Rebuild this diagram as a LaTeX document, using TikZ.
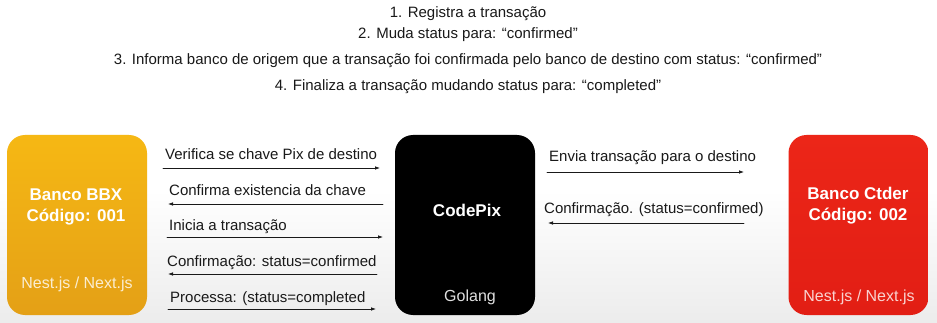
\documentclass[tikz,border=0pt]{standalone}
\usepackage{fontspec}
\setmainfont{Liberation Sans}
\usetikzlibrary{arrows.meta}
\definecolor{bbxgold}{RGB}{246,184,20}
\definecolor{bbxgolddark}{RGB}{228,160,22}
\definecolor{ctdred}{RGB}{236,38,24}
\definecolor{ctdreddark}{RGB}{226,30,20}
\definecolor{floorgray}{RGB}{236,236,236}
\definecolor{ink}{RGB}{25,25,25}

\begin{document}
\begin{tikzpicture}[x=1pt,y=-1pt,line cap=round,>={Latex[length=5pt,width=3.6pt]},
  bank/.style={rounded corners=18pt,minimum width=140pt,minimum height=180pt,inner sep=0pt},
  bankname/.style={font=\bfseries\fontsize{17}{21}\selectfont,text=white,align=center},
  stack/.style={font=\fontsize{16}{18}\selectfont,text=white,text opacity=0.8},
  step label/.style={font=\fontsize{15}{17}\selectfont,text=ink},
  msg/.style={->,line width=0.8pt,ink},
  msgtext/.style={anchor=base west,inner sep=0pt,font=\fontsize{15}{17}\selectfont,text=ink}]
  \useasboundingbox (0,0) rectangle (937,323);
  % backdrop fades to grey towards the bottom
  \fill[white] (0,0) rectangle (937,323);
  \shade[top color=white,bottom color=floorgray] (0,190) rectangle (937,323);

  % numbered steps on top
  \node[step label] (s1) at (468,14) {1. Registra a transação};
  \node[step label] (s2) at (468,35) {2. Muda status para: “confirmed"};
  \node[step label] (s3) at (468,61) {3. Informa banco de origem que a transação foi confirmada pelo banco de destino com status: “confirmed"};
  \node[step label] (s4) at (468,87) {4. Finaliza a transação mudando status para: “completed"};

  % the three systems
  \node[bank,top color=bbxgold,bottom color=bbxgolddark] (bbx) at (77,225) {};
  \node[bank,fill=black] (pix) at (465,225) {};
  \node[bank,top color=ctdred,bottom color=ctdreddark] (ctd) at (858.5,225) {};
  \node[bankname] (bbxname) at (76,207) {Banco BBX\\Código: 001};
  \node[stack] (bbxstack) at (77,284) {Nest.js / Next.js};
  \node[bankname] (pixname) at (467,210) {CodePix};
  \node[stack,text=white!88!black,text opacity=1] (pixstack) at (470,297) {Golang};
  \node[bankname] (ctdname) at (858,206) {Banco Ctder\\Código: 002};
  \node[stack] (ctdstack) at (859,297) {Nest.js / Next.js};

  % message ends
  \coordinate (a1) at (163,168); \coordinate (b1) at (380,168);
  \coordinate (a2) at (168,204); \coordinate (b2) at (383,204);
  \coordinate (a3) at (167,237); \coordinate (b3) at (383,237);
  \coordinate (a4) at (168,274); \coordinate (b4) at (377,274);
  \coordinate (a5) at (168,309); \coordinate (b5) at (376,309);
  \coordinate (c1) at (547,172); \coordinate (d1) at (744,172);
  \coordinate (c2) at (548,223); \coordinate (d2) at (744,223);

  % BBX <-> CodePix
  \draw[msg] (a1) -- (b1);
  \draw[msg] (b2) -- (a2);
  \draw[msg] (a3) -- (b3);
  \draw[msg] (b4) -- (a4);
  \draw[msg] (a5) -- (b5);
  \node[msgtext] (m1) at (165,160) {Verifica se chave Pix de destino};
  \node[msgtext] (m2) at (169,196) {Confirma existencia da chave};
  \node[msgtext] (m3) at (169,230) {Inicia a transação};
  \node[msgtext] (m4) at (167,266) {Confirmação: status=confirmed};
  \node[msgtext] (m5) at (170,302) {Processa: (status=completed};

  % CodePix <-> Ctder
  \draw[msg] (c1) -- (d1);
  \draw[msg] (d2) -- (c2);
  \node[msgtext] (m6) at (549,162) {Envia transação para o destino};
  \node[msgtext] (m7) at (544,214) {Confirmação. (status=confirmed)};
\end{tikzpicture}
\end{document}
